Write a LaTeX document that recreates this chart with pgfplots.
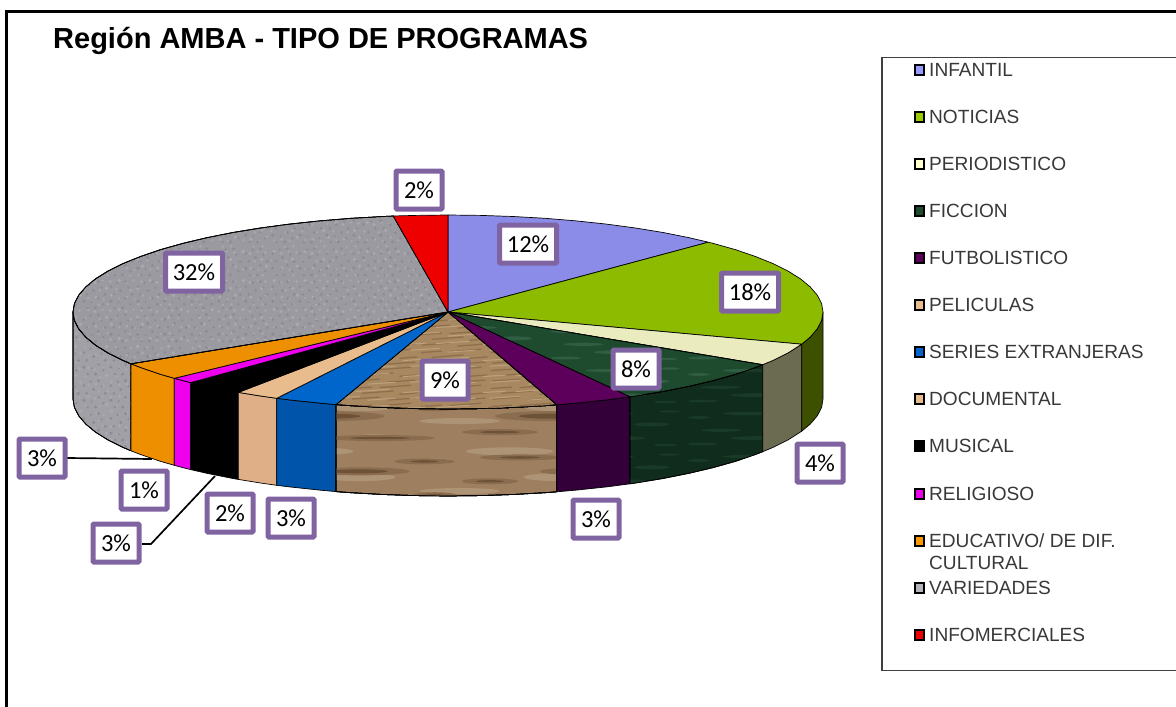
\documentclass[border=0pt]{standalone}
\usepackage{fontspec}
\setmainfont{Liberation Sans}
\newfontfamily\calib{Carlito}
\usepackage{pgfplots}
\pgfplotsset{compat=1.18}
\usetikzlibrary{patterns}

\definecolor{infantil}{HTML}{8B8BE8}
\definecolor{noticias}{HTML}{8CBB00}
\definecolor{noticiasS}{HTML}{3D5000}
\definecolor{period}{HTML}{EBEBC0}
\definecolor{periodS}{HTML}{6B6B52}
\definecolor{ficcion}{HTML}{1E4A2E}
\definecolor{ficcionL}{HTML}{2F5E42}
\definecolor{ficcionS}{HTML}{0F2C1C}
\definecolor{ficcionSL}{HTML}{193A26}
\definecolor{futbol}{HTML}{5C005C}
\definecolor{futbolS}{HTML}{33003A}
\definecolor{wood}{HTML}{A88860}
\definecolor{woodL}{HTML}{BCA07C}
\definecolor{woodD}{HTML}{8E6E4C}
\definecolor{woodS}{HTML}{9E8060}
\definecolor{woodSM}{HTML}{8A6C4E}
\definecolor{woodSD}{HTML}{6E5238}
\definecolor{woodSL}{HTML}{AE9476}
\definecolor{series}{HTML}{0066CC}
\definecolor{seriesS}{HTML}{0055AA}
\definecolor{docu}{HTML}{E8BC8C}
\definecolor{docuS}{HTML}{DFB088}
\definecolor{relig}{HTML}{EE00EE}
\definecolor{educ}{HTML}{EE8F00}
\definecolor{varie}{HTML}{9A9AA0}
\definecolor{varieS}{HTML}{A0A0A6}
\definecolor{varieL}{HTML}{AAAAAE}
\definecolor{varieD}{HTML}{8C8C92}
\definecolor{rojo}{HTML}{EE0000}
\definecolor{marco}{HTML}{8064A2}
\definecolor{keyA}{HTML}{9999FF}
\definecolor{keyB}{HTML}{99CC00}
\definecolor{keyC}{HTML}{FFFFCC}
\definecolor{keyD}{HTML}{FF9900}
\definecolor{keyE}{HTML}{B4B4B8}

% hand-drawn tiles for the picture fills of the slices
\def\blob#1#2#3{\pgfpathcircle{\pgfqpoint{#1pt}{#2pt}}{#3pt}}
\def\oval#1#2#3#4{\pgfpathellipse{\pgfqpoint{#1pt}{#2pt}}{\pgfqpoint{#3pt}{0pt}}{\pgfqpoint{0pt}{#4pt}}}
\def\streak#1#2#3#4{\pgfpathmoveto{\pgfqpoint{#1pt}{#2pt}}\pgfpathlineto{\pgfqpoint{#3pt}{#4pt}}}
\pgfdeclarepatternformonly{mottleA}{\pgfqpoint{0pt}{0pt}}{\pgfqpoint{31pt}{29pt}}{\pgfqpoint{31pt}{29pt}}{
  \blob{3}{4}{1.6}\blob{11}{2}{1.2}\blob{19}{6}{1.9}\blob{27}{3}{1.3}
  \blob{7}{11}{1.4}\blob{14}{13}{1.9}\blob{24}{12}{1.3}\blob{2}{19}{1.7}
  \blob{10}{21}{1.2}\blob{18}{20}{1.5}\blob{27}{21}{1.9}\blob{6}{26}{1.3}\blob{15}{26.5}{1.4}
  \pgfusepath{fill}}
\pgfdeclarepatternformonly{mottleB}{\pgfqpoint{0pt}{0pt}}{\pgfqpoint{27pt}{33pt}}{\pgfqpoint{27pt}{33pt}}{
  \blob{7}{3}{1.3}\blob{15}{3}{1.7}\blob{23}{7}{1.4}\blob{3}{10}{1.8}
  \blob{11}{9}{1.1}\blob{18}{13}{1.5}\blob{6}{17}{1.4}\blob{25}{17}{1.6}
  \blob{13}{21}{1.7}\blob{21}{24}{1.2}\blob{3}{25}{1.5}\blob{10}{29}{1.3}\blob{18}{30}{1.6}
  \pgfusepath{fill}}
\pgfdeclarepatternformonly{woodA}{\pgfqpoint{0pt}{0pt}}{\pgfqpoint{70pt}{18pt}}{\pgfqpoint{70pt}{18pt}}{
  \pgfsetlinewidth{1.3pt}
  \streak{2}{2}{30}{4}\streak{38}{1}{66}{3}\streak{12}{8}{44}{10.5}\streak{50}{7}{68}{8.5}
  \streak{1}{13}{22}{14.5}\streak{30}{14}{62}{16.5}
  \pgfusepath{stroke}}
\pgfdeclarepatternformonly{woodB}{\pgfqpoint{0pt}{0pt}}{\pgfqpoint{80pt}{16pt}}{\pgfqpoint{80pt}{16pt}}{
  \pgfsetlinewidth{1.1pt}
  \streak{10}{5}{40}{7}\streak{48}{3}{76}{5}\streak{3}{11}{26}{12.5}\streak{36}{12}{70}{14.5}
  \pgfusepath{stroke}}
% side of the wood slice: wide soft bands, one outer and one inner tile on the same centres
\pgfdeclarepatternformonly{woodC}{\pgfqpoint{0pt}{0pt}}{\pgfqpoint{230pt}{87pt}}{\pgfqpoint{230pt}{87pt}}{
  \oval{40}{14}{38}{3}\oval{150}{8}{55}{3}\oval{95}{30}{60}{5}\oval{205}{38}{22}{3}
  \oval{30}{52}{28}{3}\oval{130}{62}{50}{4}\oval{60}{76}{40}{3}\oval{195}{72}{30}{3}
  \pgfusepath{fill}}
\pgfdeclarepatternformonly{woodD}{\pgfqpoint{0pt}{0pt}}{\pgfqpoint{230pt}{87pt}}{\pgfqpoint{230pt}{87pt}}{
  \oval{40}{14}{20}{1.2}\oval{150}{8}{30}{1.2}\oval{95}{30}{36}{2.6}\oval{205}{38}{10}{1.2}
  \oval{30}{52}{14}{1.2}\oval{130}{62}{28}{2}\oval{60}{76}{20}{1.2}\oval{195}{72}{14}{1.2}
  \pgfusepath{fill}}
\pgfdeclarepatternformonly{woodE}{\pgfqpoint{0pt}{0pt}}{\pgfqpoint{200pt}{70pt}}{\pgfqpoint{200pt}{70pt}}{
  \oval{60}{6}{40}{3}\oval{160}{20}{36}{4}\oval{30}{36}{24}{3}\oval{110}{46}{44}{4}\oval{175}{60}{20}{3}
  \pgfusepath{fill}}
\pgfdeclarepatternformonly{greenA}{\pgfqpoint{0pt}{0pt}}{\pgfqpoint{137pt}{43pt}}{\pgfqpoint{137pt}{43pt}}{
  \oval{18}{5}{15}{1.4}\oval{72}{11}{26}{2}\oval{118}{4}{12}{1.2}\oval{36}{19}{20}{1.6}\oval{104}{25}{18}{2}
  \oval{14}{32}{11}{1.4}\oval{62}{36}{24}{1.6}\oval{122}{38}{10}{1.2}
  \pgfusepath{fill}}

\tikzset{
  edge/.style={draw=black,line width=0.7pt,line join=round},
  etiq/.style={draw=marco,line width=5pt,fill=white,rounded corners=1pt,inner sep=0pt,
    minimum width=46pt,minimum height=38pt,font=\calib\fontsize{24.5}{26}\selectfont,text=black},
  etiqw/.style={etiq,minimum width=57pt},
  leg/.style={anchor=west,inner sep=0pt,text=black!78,font=\fontsize{19.1}{20}\selectfont},
  mottle/.style n args={3}{fill=#1,postaction={pattern=mottleA,pattern color=#2},postaction={pattern=mottleB,pattern color=#3},edge},
}

\begin{document}
\begin{tikzpicture}
\useasboundingbox (0,0) rectangle (1176pt,707pt);
\begin{axis}[
  scale only axis, width=1176pt, height=707pt,
  xmin=0, xmax=1176, ymin=0, ymax=707, y dir=reverse,
  hide axis, clip=true,
]
% page frame and legend box
\addplot[black,line width=3pt,line join=miter] coordinates {(6.5,707)(6.5,11.5)(1176,11.5)};
\addplot[black!75,line width=1.3pt] coordinates {(1176,57.5)(882,57.5)(882,670.5)(1176,670.5)};

% --- side wall, left to right round the front
\addplot[mottle={varieS}{varieL}{varieD}] coordinates {(131,363.8)(123.2,360.5)(108.1,353)(95.6,345.2)(85.8,337.1)(78.7,328.8)(74.4,320.5)(73,312)(73,399)(74.4,407.5)(78.7,415.8)(85.8,424.1)(95.6,432.2)(108.1,440)(123.2,447.5)(131,450.8)} --cycle;
\addplot[fill=educ,edge] coordinates {(174.3,378.3)(160.7,374.4)(140.8,367.6)(131,363.8)(131,450.8)(140.8,454.6)(160.7,461.4)(174.3,465.3)} --cycle;
\addplot[fill=relig,edge] coordinates {(190.7,382.6)(182.8,380.6)(174.3,378.3)(174.3,465.3)(182.8,467.6)(190.7,469.6)} --cycle;
\addplot[fill=black,edge] coordinates {(238.3,392.4)(232.9,391.5)(206.9,386.3)(190.7,382.6)(190.7,469.6)(206.9,473.3)(232.9,478.5)(238.3,479.4)} --cycle;
\addplot[fill=docuS,edge] coordinates {(276.7,398.3)(260.5,396)(238.3,392.4)(238.3,479.4)(260.5,483)(276.7,485.3)} --cycle;
\addplot[fill=seriesS,edge] coordinates {(336,404.6)(319.7,403.1)(289.5,399.9)(276.7,398.3)(276.7,485.3)(289.5,486.9)(319.7,490.1)(336,491.6)} --cycle;
\addplot[fill=woodS,postaction={pattern=woodE,pattern color=woodSL},postaction={pattern=woodC,pattern color=woodSM},postaction={pattern=woodD,pattern color=woodSD},edge] coordinates {(556.7,404.8)(545.1,405.7)(513.1,407.5)(480.7,408.6)(448,409)(415.3,408.6)(382.9,407.5)(350.9,405.7)(336,404.6)(336,491.6)(350.9,492.7)(382.9,494.5)(415.3,495.6)(448,496)(480.7,495.6)(513.1,494.5)(545.1,492.7)(556.7,491.8)} --cycle;
\addplot[fill=futbolS,edge] coordinates {(630,396.8)(606.5,399.9)(576.3,403.1)(556.7,404.8)(556.7,491.8)(576.3,490.1)(606.5,486.9)(630,483.8)} --cycle;
\addplot[fill=ficcionS,postaction={pattern=greenA,pattern color=ficcionSL},edge] coordinates {(762.7,364.7)(755.2,367.6)(735.3,374.4)(713.2,380.6)(689.1,386.3)(663.1,391.5)(635.5,396)(630,396.8)(630,483.8)(635.5,483)(663.1,478.5)(689.1,473.3)(713.2,467.6)(735.3,461.4)(755.2,454.6)(762.7,451.7)} --cycle;
\addplot[fill=periodS,edge] coordinates {(801.7,344.2)(787.9,353)(772.8,360.5)(762.7,364.7)(762.7,451.7)(772.8,447.5)(787.9,440)(801.7,431.2)} --cycle;
\addplot[fill=noticiasS,edge] coordinates {(823,312)(821.6,320.5)(817.3,328.8)(810.2,337.1)(801.7,344.2)(801.7,431.2)(810.2,424.1)(817.3,415.8)(821.6,407.5)(823,399)} --cycle;

% --- top face, clockwise from twelve o'clock
\addplot[fill=infantil,edge] coordinates {(448,312)(448,215)(480.7,215.4)(513.1,216.5)(545.1,218.3)(576.3,220.9)(606.5,224.1)(635.5,228)(663.1,232.5)(689.1,237.7)(708.3,242.2)} --cycle;
\addplot[fill=noticias,edge] coordinates {(448,312)(708.3,242.2)(713.2,243.4)(735.3,249.6)(755.2,256.4)(772.8,263.5)(787.9,271)(800.4,278.8)(810.2,286.9)(817.3,295.2)(821.6,303.5)(823,312)(821.6,320.5)(817.3,328.8)(810.2,337.1)(801.7,344.2)} --cycle;
\addplot[fill=period,edge] coordinates {(448,312)(801.7,344.2)(787.9,353)(772.8,360.5)(762.7,364.7)} --cycle;
\addplot[fill=ficcion,postaction={pattern=greenA,pattern color=ficcionL},edge] coordinates {(448,312)(762.7,364.7)(755.2,367.6)(735.3,374.4)(713.2,380.6)(689.1,386.3)(663.1,391.5)(635.5,396)(630,396.8)} --cycle;
\addplot[fill=futbol,edge] coordinates {(448,312)(630,396.8)(606.5,399.9)(576.3,403.1)(556.7,404.8)} --cycle;
\addplot[fill=wood,postaction={pattern=woodA,pattern color=woodD},postaction={pattern=woodB,pattern color=woodL},edge] coordinates {(448,312)(556.7,404.8)(545.1,405.7)(513.1,407.5)(480.7,408.6)(448,409)(415.3,408.6)(382.9,407.5)(350.9,405.7)(336,404.6)} --cycle;
\addplot[fill=series,edge] coordinates {(448,312)(336,404.6)(319.7,403.1)(289.5,399.9)(276.7,398.3)} --cycle;
\addplot[fill=docu,edge] coordinates {(448,312)(276.7,398.3)(260.5,396)(238.3,392.4)} --cycle;
\addplot[fill=black,edge] coordinates {(448,312)(238.3,392.4)(232.9,391.5)(206.9,386.3)(190.7,382.6)} --cycle;
\addplot[fill=relig,edge] coordinates {(448,312)(190.7,382.6)(182.8,380.6)(174.3,378.3)} --cycle;
\addplot[fill=educ,edge] coordinates {(448,312)(174.3,378.3)(160.7,374.4)(140.8,367.6)(131,363.8)} --cycle;
\addplot[mottle={varie}{varieL}{varieD}] coordinates {(448,312)(131,363.8)(123.2,360.5)(108.1,353)(95.6,345.2)(85.8,337.1)(78.7,328.8)(74.4,320.5)(73,312)(74.4,303.5)(78.7,295.2)(85.8,286.9)(95.6,278.8)(108.1,271)(123.2,263.5)(140.8,256.4)(160.7,249.6)(182.8,243.4)(206.9,237.7)(232.9,232.5)(260.5,228)(289.5,224.1)(319.7,220.9)(350.9,218.3)(382.9,216.5)(393.3,216)} --cycle;
\addplot[fill=rojo,edge] coordinates {(448,312)(393.3,216)(415.3,215.4)(448,215)} --cycle;

% leader lines
\addplot[black,line width=1.7pt] coordinates {(67,458)(152,459)};
\addplot[black,line width=1.7pt] coordinates {(142,544)(151,544)(215,476)};

% legend keys
\pgfplotsset{key/.style={only marks,mark=square*,mark size=4.6pt,mark options={fill=#1,draw=black,line width=2pt}}}
\addplot[key=keyA] coordinates {(919.5,70)};
\addplot[key=keyB] coordinates {(919.5,117)};
\addplot[key=keyC] coordinates {(919.5,164)};
\addplot[key=ficcion] coordinates {(919.5,211)};
\addplot[key=futbol] coordinates {(919.5,258)};
\addplot[key=docu] coordinates {(919.5,305)};
\addplot[key=series] coordinates {(919.5,352)};
\addplot[key=docu] coordinates {(919.5,399)};
\addplot[key=black] coordinates {(919.5,446)};
\addplot[key=relig] coordinates {(919.5,494)};
\addplot[key=keyD] coordinates {(919.5,541)};
\addplot[key=keyE] coordinates {(919.5,588)};
\addplot[key=rojo] coordinates {(919.5,635)};

% legend text
\node[leg] at (axis cs:929,70) {INFANTIL};
\node[leg] at (axis cs:929,117) {NOTICIAS};
\node[leg] at (axis cs:929,164) {PERIODISTICO};
\node[leg] at (axis cs:929,211) {FICCION};
\node[leg] at (axis cs:929,258) {FUTBOLISTICO};
\node[leg] at (axis cs:929,305) {PELICULAS};
\node[leg] at (axis cs:929,352) {SERIES EXTRANJERAS};
\node[leg] at (axis cs:929,399) {DOCUMENTAL};
\node[leg] at (axis cs:929,446) {MUSICAL};
\node[leg] at (axis cs:929,494) {RELIGIOSO};
\node[leg] at (axis cs:929,541) {EDUCATIVO/ DE DIF.};
\node[leg] at (axis cs:929,563) {CULTURAL};
\node[leg] at (axis cs:929,588) {VARIEDADES};
\node[leg] at (axis cs:929,635) {INFOMERCIALES};

% title
\node[anchor=west,inner sep=0pt,font=\bfseries\fontsize{29}{31}\selectfont] at (axis cs:53,41) {Región AMBA - TIPO DE PROGRAMAS};

% value labels
\node[etiqw] at (axis cs:528,244) {12\%};
\node[etiqw] at (axis cs:750,292) {18\%};
\node[etiq] at (axis cs:820,463) {4\%};
\node[etiq] at (axis cs:636,369) {8\%};
\node[etiq] at (axis cs:596,519) {3\%};
\node[etiq] at (axis cs:445,380) {9\%};
\node[etiq] at (axis cs:291,518) {3\%};
\node[etiq] at (axis cs:230,513) {2\%};
\node[etiq] at (axis cs:116,543) {3\%};
\node[etiq] at (axis cs:144,490) {1\%};
\node[etiq] at (axis cs:42,458) {3\%};
\node[etiqw] at (axis cs:194,272) {32\%};
\node[etiq] at (axis cs:419,190) {2\%};
\end{axis}
\end{tikzpicture}
\end{document}
